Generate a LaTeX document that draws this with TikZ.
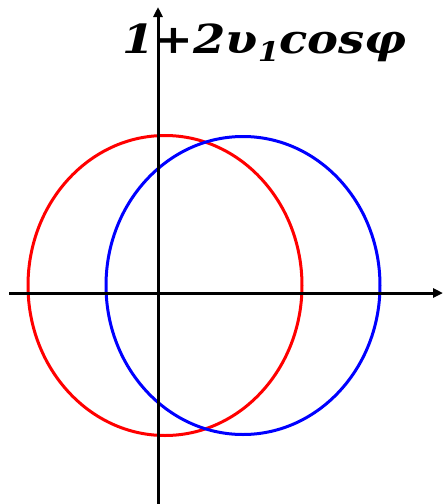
\documentclass[tikz,border=0pt]{standalone}
\usepackage{fontspec}
\setmainfont{Liberation Serif}
\newfontfamily\labelfont{DejaVu Serif}
\usetikzlibrary{arrows.meta}
\tikzset{
  axisline/.style={line width=3pt, black, -{Triangle[length=10pt,width=9pt]}},
  curve/.style={line width=3pt},
  formula/.style={anchor=base west, inner sep=0pt, xscale=1.16, font=\labelfont\fontsize{40}{44}\selectfont\bfseries\itshape},
}
\begin{document}
\begin{tikzpicture}[x=1pt,y=-1pt]
\useasboundingbox (0,0) rectangle (444,504);
\coordinate (xs) at (9,293);
\coordinate (xe) at (443,293);
\coordinate (ys) at (158,504);
\coordinate (ye) at (158,7);
\draw[curve, red] (165,285.5) ellipse [x radius=137, y radius=150];
\draw[curve, blue] (243,285.5) ellipse [x radius=137, y radius=149];
\draw[axisline] (xs) -- (xe);
\draw[axisline] (ys) -- (ye);
\node[formula] (lbl) at (122,53) {1+2υ\raisebox{-8pt}{\fontsize{27}{29}\selectfont 1}cosφ};
\end{tikzpicture}
\end{document}
